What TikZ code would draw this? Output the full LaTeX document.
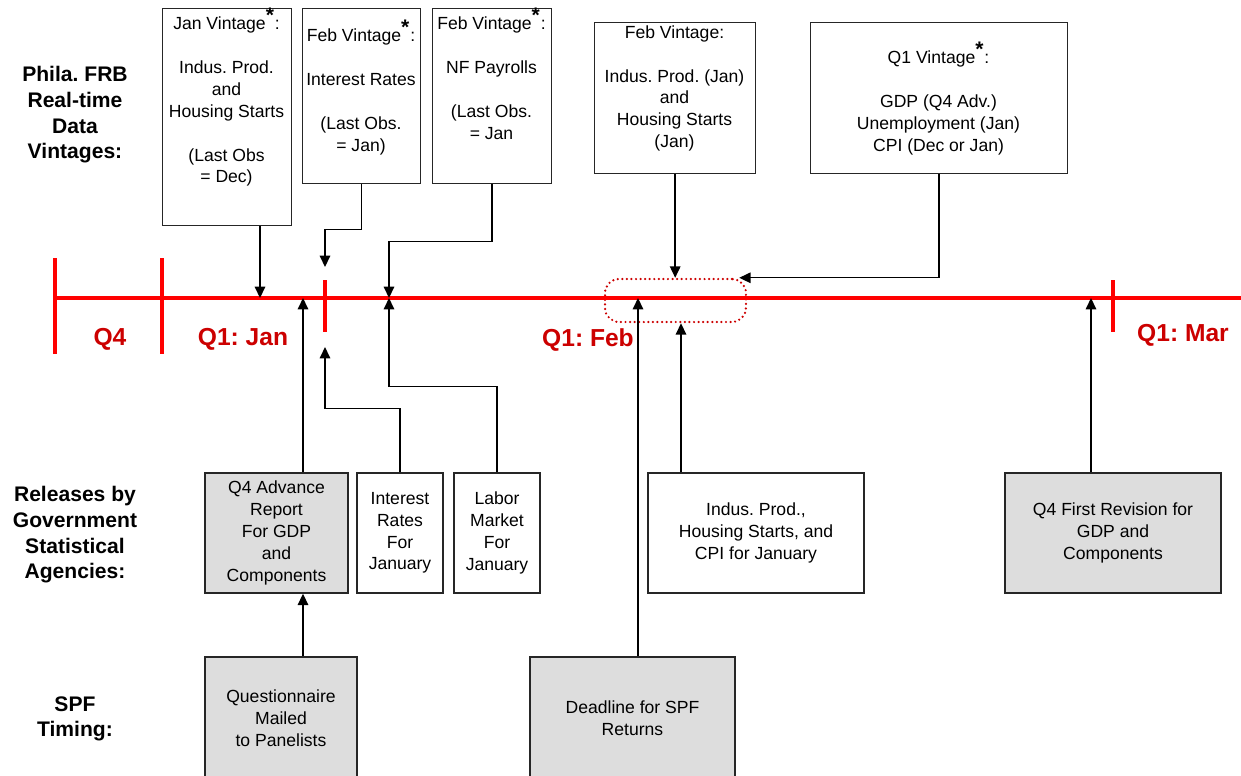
\documentclass[tikz,border=0pt]{standalone}
\usepackage{fontspec}
\setmainfont{Liberation Sans}
\usetikzlibrary{arrows.meta,positioning,calc}

\definecolor{tlred}{RGB}{255,0,0}
\definecolor{qred}{RGB}{204,0,0}
\definecolor{boxgray}{RGB}{221,221,221}

% bold raised star after "Vintage"
\newcommand{\vstar}{\textsuperscript{\textbf{\large *}}}

\frenchspacing

\begin{document}
\begin{tikzpicture}[x=0.02cm,y=-0.02cm,>={Triangle[length=6.5pt,width=6pt]}]

	\tikzset{
		tline/.style={tlred,line width=2.2pt},
		qlab/.style={qred,font=\fontsize{14}{16}\selectfont\bfseries},
		rowlab/.style={align=center,font=\fontsize{12}{14.6}\selectfont\bfseries},
		vbox/.style={draw=black!85,line width=0.8pt,fill=white,anchor=north west,inner sep=0pt},
		vtxt/.style={align=center,anchor=north,inner sep=0pt,font=\fontsize{10}{12.5}\selectfont},
		rbox/.style={draw=black!85,line width=0.8pt,fill=white,align=center,inner sep=0pt,
			font=\fontsize{10}{12.4}\selectfont},
		gbox/.style={rbox,fill=boxgray},
		arr/.style={->,line width=0.8pt},
		dotbox/.style={draw=qred,line width=1.4pt,dash pattern=on 0pt off 2.6pt,line cap=round,
			rounded corners=8pt,inner sep=0pt},
	}

	\useasboundingbox (0,0) rectangle (1241,775);

	%========================================
	% Row labels
	%========================================
	\node[rowlab] (vintlab) at (75,115) {Phila. FRB\\Real-time\\Data\\Vintages:};
	\node[rowlab] (rellab) at (75,535) {Releases by\\Government\\Statistical\\Agencies:};
	\node[rowlab] (spflab) at (75,719) {SPF\\Timing:};

	%========================================
	% Timeline
	%========================================
	\node[dotbox,minimum width=2.82cm,minimum height=0.86cm] (febwin) at (675.5,300.5) {};

	\draw[tline] (55,298) -- (1245,298);
	\draw[tline] (55,258) -- (55,354);
	\draw[tline] (162,258) -- (162,354);
	\draw[tline] (325,280) -- (325,332);
	\draw[tline] (1113,280) -- (1113,332);

	% where the arrows meet the line
	\coordinate (tJan) at (260,298);
	\coordinate (tAdv) at (303,298);
	\coordinate (tIR) at (325,267);
	\coordinate (bIR) at (325,347);
	\coordinate (tNF) at (389,298);
	\coordinate (tDead) at (638,298);
	\coordinate (tIP) at (681,298);
	\coordinate (tRev) at (1091,298);

	\node[qlab] (q4) at (110,339) {Q4};
	\node[qlab] (q1jan) at (243,339) {Q1: Jan};
	\node[qlab] (q1feb) at (588,340) {Q1: Feb};
	\node[qlab] (q1mar) at (1183,335) {Q1: Mar};

	%========================================
	% Real-time data vintages (top)
	%========================================
	\node[vbox,minimum width=2.58cm,minimum height=4.34cm] (janv) at (162,8) {};
	\node[vtxt] (janv-t) at (226.5,8)
	{Jan Vintage\vstar:\\[12.5pt]Indus. Prod.\\and\\Housing Starts\\[12.5pt](Last Obs\\= Dec)};

	\node[vbox,minimum width=2.36cm,minimum height=3.5cm] (febir) at (302,8) {};
	\node[vtxt] (febir-t) at (361,20)
	{Feb Vintage\vstar:\\[12.5pt]Interest Rates\\[12.5pt](Last Obs.\\= Jan)};

	\node[vbox,minimum width=2.38cm,minimum height=3.5cm] (febnf) at (432,8) {};
	\node[vtxt] (febnf-t) at (491.5,8)
	{Feb Vintage\vstar:\\[12.5pt]NF Payrolls\\[12.5pt](Last Obs.\\= Jan};

	\node[vbox,minimum width=3.22cm,minimum height=3.02cm] (febip) at (594,22) {};
	\node[vtxt] (febip-t) at (674.5,25)
	{Feb Vintage:\\[12.5pt]Indus. Prod. (Jan)\\and\\Housing Starts\\(Jan)};

	\node[vbox,minimum width=5.14cm,minimum height=3.02cm] (qone) at (810,22) {};
	\node[vtxt] (qone-t) at (938.5,42)
	{Q1 Vintage\vstar:\\[12.5pt]GDP (Q4 Adv.)\\Unemployment (Jan)\\CPI (Dec or Jan)};

	%========================================
	% Releases by government agencies (middle)
	%========================================
	\node[gbox,minimum width=2.86cm,minimum height=2.4cm] (q4adv) at (276.5,533)
	{Q4 Advance\\Report\\For GDP\\and\\Components};
	\node[rbox,minimum width=1.72cm,minimum height=2.4cm] (irjan) at (400,533)
	{Interest\\Rates\\For\\January};
	\node[rbox,minimum width=1.72cm,minimum height=2.4cm] (lmjan) at (497,533)
	{Labor\\Market\\For\\January};
	\node[rbox,minimum width=4.32cm,minimum height=2.4cm] (ipjan) at (756,533)
	{Indus. Prod.,\\Housing Starts, and\\CPI for January};
	\node[gbox,minimum width=4.32cm,minimum height=2.4cm] (q4rev) at (1113,533)
	{Q4 First Revision for\\GDP and\\Components};

	%========================================
	% SPF timing (bottom)
	%========================================
	\node[gbox,minimum width=3.04cm,minimum height=2.44cm] (mail) at (281,718)
	{Questionnaire\\Mailed\\to Panelists};
	\node[gbox,minimum width=4.1cm,minimum height=2.44cm] (dead) at (632.5,718)
	{Deadline for SPF\\Returns};

	%========================================
	% Arrows
	%========================================
	% vintages -> timeline
	\draw[arr] (janv.south -| tJan) -- (tJan);
	\draw[arr] (febir.south) -- ++(0,45) -| (tIR);
	\draw[arr] (febnf.south) -- ++(0,57) -| (tNF);
	\draw[arr] (febip.south) -- (febip.south |- febwin.north);
	\draw[arr] (qone.south) |- ([xshift=-0.16cm]febwin.north east);

	% releases -> timeline
	\draw[arr] (q4adv.north -| tAdv) -- (tAdv);
	\draw[arr] (irjan.north) -- ++(0,-64) -| (bIR);
	\draw[arr] (lmjan.north) -- ++(0,-86) -| (tNF);
	\draw[arr] (ipjan.north -| tIP) -- (febwin.south -| tIP);
	\draw[arr] (q4rev.north -| tRev) -- (tRev);

	% SPF -> timeline
	\draw[arr] (mail.north -| tAdv) -- (q4adv.south -| tAdv);
	\draw[arr] (dead.north -| tDead) -- (tDead);

\end{tikzpicture}
\end{document}
